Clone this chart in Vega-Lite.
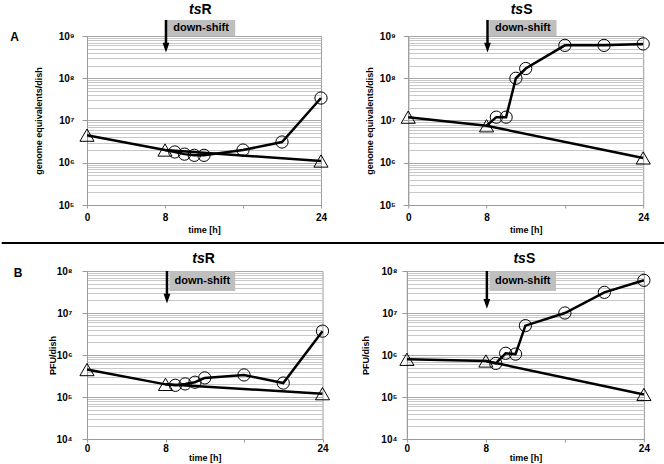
{
"$schema":"https://vega.github.io/schema/vega-lite/v6.json",
"padding":{"left":0,"right":0,"top":2,"bottom":0},
"spacing":7,
"datasets":{
"obs":[
{"panel":"A1","series":"tri","t":0,"v":4500000},
{"panel":"A1","series":"tri","t":8,"v":2000000},
{"panel":"A1","series":"tri","t":24,"v":1100000},
{"panel":"A1","series":"circ","t":8,"v":2000000},
{"panel":"A1","series":"circ","t":9,"v":1800000},
{"panel":"A1","series":"circ","t":10,"v":1600000},
{"panel":"A1","series":"circ","t":11,"v":1500000},
{"panel":"A1","series":"circ","t":12,"v":1500000},
{"panel":"A1","series":"circ","t":16,"v":2000000},
{"panel":"A1","series":"circ","t":20,"v":3100000},
{"panel":"A1","series":"circ","t":24,"v":34000000},
{"panel":"A2","series":"tri","t":0,"v":12000000},
{"panel":"A2","series":"tri","t":8,"v":7500000},
{"panel":"A2","series":"tri","t":24,"v":1300000},
{"panel":"A2","series":"circ","t":8,"v":7500000},
{"panel":"A2","series":"circ","t":9,"v":12000000},
{"panel":"A2","series":"circ","t":10,"v":12000000},
{"panel":"A2","series":"circ","t":11,"v":100000000},
{"panel":"A2","series":"circ","t":12,"v":170000000},
{"panel":"A2","series":"circ","t":16,"v":600000000},
{"panel":"A2","series":"circ","t":20,"v":600000000},
{"panel":"A2","series":"circ","t":24,"v":650000000},
{"panel":"B1","series":"tri","t":0,"v":450000},
{"panel":"B1","series":"tri","t":8,"v":200000},
{"panel":"B1","series":"tri","t":24,"v":120000},
{"panel":"B1","series":"circ","t":8,"v":200000},
{"panel":"B1","series":"circ","t":9,"v":190000},
{"panel":"B1","series":"circ","t":10,"v":205000},
{"panel":"B1","series":"circ","t":11,"v":225000},
{"panel":"B1","series":"circ","t":12,"v":285000},
{"panel":"B1","series":"circ","t":16,"v":335000},
{"panel":"B1","series":"circ","t":20,"v":215000},
{"panel":"B1","series":"circ","t":24,"v":3700000},
{"panel":"B2","series":"tri","t":0,"v":790000},
{"panel":"B2","series":"tri","t":8,"v":720000},
{"panel":"B2","series":"tri","t":24,"v":115000},
{"panel":"B2","series":"circ","t":8,"v":720000},
{"panel":"B2","series":"circ","t":9,"v":630000},
{"panel":"B2","series":"circ","t":10,"v":1100000},
{"panel":"B2","series":"circ","t":11,"v":1050000},
{"panel":"B2","series":"circ","t":12,"v":5000000},
{"panel":"B2","series":"circ","t":16,"v":10000000},
{"panel":"B2","series":"circ","t":20,"v":31000000},
{"panel":"B2","series":"circ","t":24,"v":60000000}
],
"annot":[
{"panel":"A1","x":8.2,"x2":15.2,"y":1000000000,"y2":2400000000,"lx":11.7,"ly":1550000000,"label":"down-shift","ax":8.1,"atop":2400000000,"ahead":530000000},
{"panel":"A2","x":8.27,"x2":15.15,"y":1000000000,"y2":2400000000,"lx":11.71,"ly":1550000000,"label":"down-shift","ax":8.1,"atop":2400000000,"ahead":530000000},
{"panel":"B1","x":8.4,"x2":15.1,"y":100000000,"y2":33500000,"lx":11.75,"ly":58000000,"label":"down-shift","ax":8.15,"atop":100000000,"ahead":22000000},
{"panel":"B2","x":8.36,"x2":15.1,"y":100000000,"y2":33500000,"lx":11.73,"ly":58000000,"label":"down-shift","ax":8.1,"atop":100000000,"ahead":16500000}
]
},
"vconcat":[
{"hconcat":[
{"width":234,"height":169,
"layer":[
{"data":{"name":"obs"},"transform":[{"filter":"datum.panel=='A1'"}],"mark":{"type":"line","color":"black","strokeWidth":2.5},"encoding":{
"x":{"field":"t","type":"quantitative","scale":{"domain":[0,24],"nice":false,"zero":false},"axis":{"title":"time [h]","values":[0,1,2,3,4,5,6,7,8,9,10,11,12,13,14,15,16,17,18,19,20,21,22,23,24],"labelExpr":"datum.value==0||datum.value==8||datum.value==24?datum.label:''"}},
"y":{"field":"v","type":"quantitative","scale":{"type":"log","domain":[100000,1000000000],"nice":false},"axis":{"title":"genome equivalents/dish","values":[100000,200000,300000,400000,500000,600000,700000,800000,900000,1000000,2000000,3000000,4000000,5000000,6000000,7000000,8000000,9000000,10000000,20000000,30000000,40000000,50000000,60000000,70000000,80000000,90000000,100000000,200000000,300000000,400000000,500000000,600000000,700000000,800000000,900000000,1000000000],"labelExpr":"datum.value==10000?'10⁴':datum.value==100000?'10⁵':datum.value==1000000?'10⁶':datum.value==10000000?'10⁷':datum.value==100000000?'10⁸':datum.value==1000000000?'10⁹':''","gridColor":{"condition":{"test":"indexof([10000,100000,1000000,10000000,100000000,1000000000],datum.value)>=0","value":"#a8a8a8"},"value":"#c8c8c8"},"tickOpacity":{"condition":{"test":"indexof([10000,100000,1000000,10000000,100000000,1000000000],datum.value)>=0","value":1},"value":0},"labelPadding":8,"titlePadding":15}},
"detail":{"field":"series"}}},
{"data":{"name":"annot"},"transform":[{"filter":"datum.panel=='A1'"}],"mark":{"type":"rect","color":"#bfbfbf","clip":false},"encoding":{"x":{"field":"x","type":"quantitative"},"x2":{"field":"x2"},"y":{"field":"y","type":"quantitative"},"y2":{"field":"y2"}}},
{"data":{"name":"annot"},"transform":[{"filter":"datum.panel=='A1'"}],"mark":{"type":"text","fontWeight":"bold","fontSize":11,"color":"black","align":"center","baseline":"middle","clip":false},"encoding":{"x":{"field":"lx","type":"quantitative"},"y":{"field":"ly","type":"quantitative"},"text":{"field":"label"}}},
{"data":{"name":"annot"},"transform":[{"filter":"datum.panel=='A1'"}],"mark":{"type":"rule","color":"black","strokeWidth":2.5,"clip":false},"encoding":{"x":{"field":"ax","type":"quantitative"},"y":{"field":"atop","type":"quantitative"},"y2":{"field":"ahead"}}},
{"data":{"name":"annot"},"transform":[{"filter":"datum.panel=='A1'"}],"mark":{"type":"point","shape":"M-0.7,-1L0.7,-1L0,1Z","size":94,"filled":true,"color":"black","opacity":1,"clip":false},"encoding":{"x":{"field":"ax","type":"quantitative"},"y":{"field":"ahead","type":"quantitative"}}},
{"data":{"values":[{}]},"mark":{"type":"text","text":"ts","fontStyle":"italic","fontWeight":"bold","fontSize":14,"align":"right","baseline":"alphabetic","color":"black","clip":false},"encoding":{"x":{"datum":11.74,"type":"quantitative"},"y":{"datum":3270000000,"type":"quantitative"}}},
{"data":{"values":[{}]},"mark":{"type":"text","text":"R","fontWeight":"bold","fontSize":14,"align":"left","baseline":"alphabetic","color":"black","clip":false},"encoding":{"x":{"datum":11.74,"type":"quantitative"},"y":{"datum":3270000000,"type":"quantitative"}}},
{"data":{"name":"obs"},"transform":[{"filter":"datum.panel=='A1' && datum.series=='circ' && datum.t>8"}],"mark":{"type":"point","shape":"circle","size":150,"filled":false,"color":"black","strokeWidth":1,"opacity":1},"encoding":{"x":{"field":"t","type":"quantitative"},"y":{"field":"v","type":"quantitative"}}},
{"data":{"name":"obs"},"transform":[{"filter":"datum.panel=='A1' && datum.series=='tri'"}],"mark":{"type":"point","shape":"triangle-up","size":200,"filled":false,"color":"black","strokeWidth":1,"opacity":1},"encoding":{"x":{"field":"t","type":"quantitative"},"y":{"field":"v","type":"quantitative"}}}
]},
{"width":235,"height":169,
"layer":[
{"data":{"name":"obs"},"transform":[{"filter":"datum.panel=='A2'"}],"mark":{"type":"line","color":"black","strokeWidth":2.5},"encoding":{
"x":{"field":"t","type":"quantitative","scale":{"domain":[0,24],"nice":false,"zero":false},"axis":{"title":"time [h]","values":[0,1,2,3,4,5,6,7,8,9,10,11,12,13,14,15,16,17,18,19,20,21,22,23,24],"labelExpr":"datum.value==0||datum.value==8||datum.value==24?datum.label:''"}},
"y":{"field":"v","type":"quantitative","scale":{"type":"log","domain":[100000,1000000000],"nice":false},"axis":{"title":"genome equivalents/dish","values":[100000,200000,300000,400000,500000,600000,700000,800000,900000,1000000,2000000,3000000,4000000,5000000,6000000,7000000,8000000,9000000,10000000,20000000,30000000,40000000,50000000,60000000,70000000,80000000,90000000,100000000,200000000,300000000,400000000,500000000,600000000,700000000,800000000,900000000,1000000000],"labelExpr":"datum.value==10000?'10⁴':datum.value==100000?'10⁵':datum.value==1000000?'10⁶':datum.value==10000000?'10⁷':datum.value==100000000?'10⁸':datum.value==1000000000?'10⁹':''","gridColor":{"condition":{"test":"indexof([10000,100000,1000000,10000000,100000000,1000000000],datum.value)>=0","value":"#a8a8a8"},"value":"#c8c8c8"},"tickOpacity":{"condition":{"test":"indexof([10000,100000,1000000,10000000,100000000,1000000000],datum.value)>=0","value":1},"value":0},"labelPadding":8,"titlePadding":4.5}},
"detail":{"field":"series"}}},
{"data":{"name":"annot"},"transform":[{"filter":"datum.panel=='A2'"}],"mark":{"type":"rect","color":"#bfbfbf","clip":false},"encoding":{"x":{"field":"x","type":"quantitative"},"x2":{"field":"x2"},"y":{"field":"y","type":"quantitative"},"y2":{"field":"y2"}}},
{"data":{"name":"annot"},"transform":[{"filter":"datum.panel=='A2'"}],"mark":{"type":"text","fontWeight":"bold","fontSize":11,"color":"black","align":"center","baseline":"middle","clip":false},"encoding":{"x":{"field":"lx","type":"quantitative"},"y":{"field":"ly","type":"quantitative"},"text":{"field":"label"}}},
{"data":{"name":"annot"},"transform":[{"filter":"datum.panel=='A2'"}],"mark":{"type":"rule","color":"black","strokeWidth":2.5,"clip":false},"encoding":{"x":{"field":"ax","type":"quantitative"},"y":{"field":"atop","type":"quantitative"},"y2":{"field":"ahead"}}},
{"data":{"name":"annot"},"transform":[{"filter":"datum.panel=='A2'"}],"mark":{"type":"point","shape":"M-0.7,-1L0.7,-1L0,1Z","size":94,"filled":true,"color":"black","opacity":1,"clip":false},"encoding":{"x":{"field":"ax","type":"quantitative"},"y":{"field":"ahead","type":"quantitative"}}},
{"data":{"values":[{}]},"mark":{"type":"text","text":"ts","fontStyle":"italic","fontWeight":"bold","fontSize":14,"align":"right","baseline":"alphabetic","color":"black","clip":false},"encoding":{"x":{"datum":11.74,"type":"quantitative"},"y":{"datum":3270000000,"type":"quantitative"}}},
{"data":{"values":[{}]},"mark":{"type":"text","text":"S","fontWeight":"bold","fontSize":14,"align":"left","baseline":"alphabetic","color":"black","clip":false},"encoding":{"x":{"datum":11.74,"type":"quantitative"},"y":{"datum":3270000000,"type":"quantitative"}}},
{"data":{"name":"obs"},"transform":[{"filter":"datum.panel=='A2' && datum.series=='circ' && datum.t>8"}],"mark":{"type":"point","shape":"circle","size":150,"filled":false,"color":"black","strokeWidth":1,"opacity":1},"encoding":{"x":{"field":"t","type":"quantitative"},"y":{"field":"v","type":"quantitative"}}},
{"data":{"name":"obs"},"transform":[{"filter":"datum.panel=='A2' && datum.series=='tri'"}],"mark":{"type":"point","shape":"triangle-up","size":200,"filled":false,"color":"black","strokeWidth":1,"opacity":1},"encoding":{"x":{"field":"t","type":"quantitative"},"y":{"field":"v","type":"quantitative"}}}
]}
],
"spacing":34.2,
"title":{"text":"A","anchor":"start","fontSize":12,"fontStyle":"normal","dx":-23.3,"dy":41.6,"offset":0}},
{"width":578,"height":2,"view":{"stroke":null},"data":{"values":[{"a":0,"b":1}]},"mark":{"type":"rule","strokeWidth":2,"color":"black"},"encoding":{"x":{"field":"a","type":"quantitative","scale":{"domain":[0,1],"nice":false,"range":[-85.3,578.7]},"axis":null},"x2":{"field":"b"}}},
{"hconcat":[
{"width":235.5,"height":168,
"layer":[
{"data":{"name":"obs"},"transform":[{"filter":"datum.panel=='B1'"}],"mark":{"type":"line","color":"black","strokeWidth":2.5},"encoding":{
"x":{"field":"t","type":"quantitative","scale":{"domain":[0,24],"nice":false,"zero":false},"axis":{"title":"time [h]","titlePadding":0,"labelPadding":1.5,"values":[0,1,2,3,4,5,6,7,8,9,10,11,12,13,14,15,16,17,18,19,20,21,22,23,24],"labelExpr":"datum.value==0||datum.value==8||datum.value==24?datum.label:''"}},
"y":{"field":"v","type":"quantitative","scale":{"type":"log","domain":[10000,100000000],"nice":false},"axis":{"title":"PFU/dish","values":[10000,20000,30000,40000,50000,60000,70000,80000,90000,100000,200000,300000,400000,500000,600000,700000,800000,900000,1000000,2000000,3000000,4000000,5000000,6000000,7000000,8000000,9000000,10000000,20000000,30000000,40000000,50000000,60000000,70000000,80000000,90000000,100000000],"labelExpr":"datum.value==10000?'10⁴':datum.value==100000?'10⁵':datum.value==1000000?'10⁶':datum.value==10000000?'10⁷':datum.value==100000000?'10⁸':datum.value==1000000000?'10⁹':''","gridColor":{"condition":{"test":"indexof([10000,100000,1000000,10000000,100000000,1000000000],datum.value)>=0","value":"#a8a8a8"},"value":"#c8c8c8"},"tickOpacity":{"condition":{"test":"indexof([10000,100000,1000000,10000000,100000000,1000000000],datum.value)>=0","value":1},"value":0},"labelPadding":10,"titlePadding":-2}},
"detail":{"field":"series"}}},
{"data":{"name":"annot"},"transform":[{"filter":"datum.panel=='B1'"}],"mark":{"type":"rect","color":"#bfbfbf","clip":false},"encoding":{"x":{"field":"x","type":"quantitative"},"x2":{"field":"x2"},"y":{"field":"y","type":"quantitative"},"y2":{"field":"y2"}}},
{"data":{"name":"annot"},"transform":[{"filter":"datum.panel=='B1'"}],"mark":{"type":"text","fontWeight":"bold","fontSize":11,"color":"black","align":"center","baseline":"middle","clip":false},"encoding":{"x":{"field":"lx","type":"quantitative"},"y":{"field":"ly","type":"quantitative"},"text":{"field":"label"}}},
{"data":{"name":"annot"},"transform":[{"filter":"datum.panel=='B1'"}],"mark":{"type":"rule","color":"black","strokeWidth":2.5,"clip":false},"encoding":{"x":{"field":"ax","type":"quantitative"},"y":{"field":"atop","type":"quantitative"},"y2":{"field":"ahead"}}},
{"data":{"name":"annot"},"transform":[{"filter":"datum.panel=='B1'"}],"mark":{"type":"point","shape":"M-0.7,-1L0.7,-1L0,1Z","size":94,"filled":true,"color":"black","opacity":1,"clip":false},"encoding":{"x":{"field":"ax","type":"quantitative"},"y":{"field":"ahead","type":"quantitative"}}},
{"data":{"values":[{}]},"mark":{"type":"text","text":"ts","fontStyle":"italic","fontWeight":"bold","fontSize":14,"align":"right","baseline":"alphabetic","color":"black","clip":false},"encoding":{"x":{"datum":12.0,"type":"quantitative"},"y":{"datum":158000000,"type":"quantitative"}}},
{"data":{"values":[{}]},"mark":{"type":"text","text":"R","fontWeight":"bold","fontSize":14,"align":"left","baseline":"alphabetic","color":"black","clip":false},"encoding":{"x":{"datum":12.0,"type":"quantitative"},"y":{"datum":158000000,"type":"quantitative"}}},
{"data":{"name":"obs"},"transform":[{"filter":"datum.panel=='B1' && datum.series=='circ' && datum.t>8"}],"mark":{"type":"point","shape":"circle","size":150,"filled":false,"color":"black","strokeWidth":1,"opacity":1},"encoding":{"x":{"field":"t","type":"quantitative"},"y":{"field":"v","type":"quantitative"}}},
{"data":{"name":"obs"},"transform":[{"filter":"datum.panel=='B1' && datum.series=='tri'"}],"mark":{"type":"point","shape":"triangle-up","size":200,"filled":false,"color":"black","strokeWidth":1,"opacity":1},"encoding":{"x":{"field":"t","type":"quantitative"},"y":{"field":"v","type":"quantitative"}}}
]},
{"width":237,"height":168,
"layer":[
{"data":{"name":"obs"},"transform":[{"filter":"datum.panel=='B2'"}],"mark":{"type":"line","color":"black","strokeWidth":2.5},"encoding":{
"x":{"field":"t","type":"quantitative","scale":{"domain":[0,24],"nice":false,"zero":false},"axis":{"title":"time [h]","titlePadding":0,"labelPadding":1.5,"values":[0,1,2,3,4,5,6,7,8,9,10,11,12,13,14,15,16,17,18,19,20,21,22,23,24],"labelExpr":"datum.value==0||datum.value==8||datum.value==24?datum.label:''"}},
"y":{"field":"v","type":"quantitative","scale":{"type":"log","domain":[10000,100000000],"nice":false},"axis":{"title":"PFU/dish","values":[10000,20000,30000,40000,50000,60000,70000,80000,90000,100000,200000,300000,400000,500000,600000,700000,800000,900000,1000000,2000000,3000000,4000000,5000000,6000000,7000000,8000000,9000000,10000000,20000000,30000000,40000000,50000000,60000000,70000000,80000000,90000000,100000000],"labelExpr":"datum.value==10000?'10⁴':datum.value==100000?'10⁵':datum.value==1000000?'10⁶':datum.value==10000000?'10⁷':datum.value==100000000?'10⁸':datum.value==1000000000?'10⁹':''","gridColor":{"condition":{"test":"indexof([10000,100000,1000000,10000000,100000000,1000000000],datum.value)>=0","value":"#a8a8a8"},"value":"#c8c8c8"},"tickOpacity":{"condition":{"test":"indexof([10000,100000,1000000,10000000,100000000,1000000000],datum.value)>=0","value":1},"value":0},"labelPadding":5,"titlePadding":10}},
"detail":{"field":"series"}}},
{"data":{"name":"annot"},"transform":[{"filter":"datum.panel=='B2'"}],"mark":{"type":"rect","color":"#bfbfbf","clip":false},"encoding":{"x":{"field":"x","type":"quantitative"},"x2":{"field":"x2"},"y":{"field":"y","type":"quantitative"},"y2":{"field":"y2"}}},
{"data":{"name":"annot"},"transform":[{"filter":"datum.panel=='B2'"}],"mark":{"type":"text","fontWeight":"bold","fontSize":11,"color":"black","align":"center","baseline":"middle","clip":false},"encoding":{"x":{"field":"lx","type":"quantitative"},"y":{"field":"ly","type":"quantitative"},"text":{"field":"label"}}},
{"data":{"name":"annot"},"transform":[{"filter":"datum.panel=='B2'"}],"mark":{"type":"rule","color":"black","strokeWidth":2.5,"clip":false},"encoding":{"x":{"field":"ax","type":"quantitative"},"y":{"field":"atop","type":"quantitative"},"y2":{"field":"ahead"}}},
{"data":{"name":"annot"},"transform":[{"filter":"datum.panel=='B2'"}],"mark":{"type":"point","shape":"M-0.7,-1L0.7,-1L0,1Z","size":94,"filled":true,"color":"black","opacity":1,"clip":false},"encoding":{"x":{"field":"ax","type":"quantitative"},"y":{"field":"ahead","type":"quantitative"}}},
{"data":{"values":[{}]},"mark":{"type":"text","text":"ts","fontStyle":"italic","fontWeight":"bold","fontSize":14,"align":"right","baseline":"alphabetic","color":"black","clip":false},"encoding":{"x":{"datum":12.05,"type":"quantitative"},"y":{"datum":158000000,"type":"quantitative"}}},
{"data":{"values":[{}]},"mark":{"type":"text","text":"S","fontWeight":"bold","fontSize":14,"align":"left","baseline":"alphabetic","color":"black","clip":false},"encoding":{"x":{"datum":12.05,"type":"quantitative"},"y":{"datum":158000000,"type":"quantitative"}}},
{"data":{"name":"obs"},"transform":[{"filter":"datum.panel=='B2' && datum.series=='circ' && datum.t>8"}],"mark":{"type":"point","shape":"circle","size":150,"filled":false,"color":"black","strokeWidth":1,"opacity":1},"encoding":{"x":{"field":"t","type":"quantitative"},"y":{"field":"v","type":"quantitative"}}},
{"data":{"name":"obs"},"transform":[{"filter":"datum.panel=='B2' && datum.series=='tri'"}],"mark":{"type":"point","shape":"triangle-up","size":200,"filled":false,"color":"black","strokeWidth":1,"opacity":1},"encoding":{"x":{"field":"t","type":"quantitative"},"y":{"field":"v","type":"quantitative"}}}
]}
],
"spacing":27.9,
"title":{"text":"B","anchor":"start","fontSize":12,"fontStyle":"normal","dx":-34.7,"dy":28.6,"offset":0}}
],
"config":{
"font":"Liberation Sans",
"view":{"stroke":"#9a9a9a"},
"title":{"font":"Liberation Sans","fontWeight":"bold","color":"black"},
"axis":{"labelFont":"Liberation Sans","titleFont":"Liberation Sans","labelFontWeight":"bold","titleFontWeight":"bold","labelColor":"black","titleColor":"black","domainColor":"#9a9a9a","tickColor":"#9a9a9a","labelOverlap":false,"labelFlush":false,"titleFontSize":9,"labelFontSize":10},
"axisX":{"tickSize":3,"labelPadding":4.5,"titlePadding":3,"grid":false},
"axisY":{"tickSize":5,"grid":true,"gridWidth":1}
}
}
